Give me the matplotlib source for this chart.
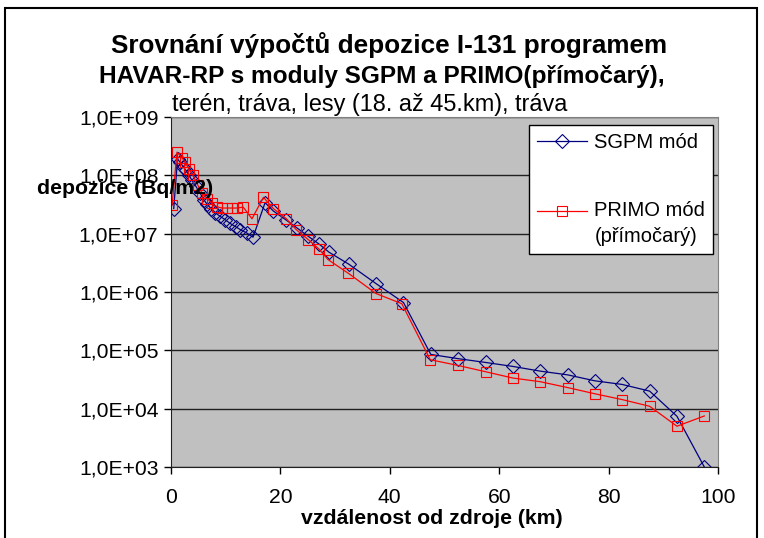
import numpy as np
import matplotlib
matplotlib.use("Agg")
import matplotlib.pyplot as plt
from matplotlib.patches import Rectangle

plt.rcParams['font.family'] = ['Liberation Sans', 'DejaVu Sans']

# SGPM mode (blue)
sgpm_km = [0.5, 1.2, 1.7, 2.2, 2.7, 3.3, 3.8, 4.5, 5.3, 6.0, 6.6, 7.3, 8.1, 8.9,
           9.9, 10.8, 11.8, 12.7, 13.9, 15.0, 17.2, 18.7, 21.1, 23.0, 25.1, 27.1,
           28.9, 32.5, 37.5, 42.5, 47.5, 52.5, 57.5, 62.5, 67.5, 72.5, 77.5, 82.5,
           87.5, 92.5, 97.5]
sgpm_dep = [2.7e7, 1.9e8, 1.66e8, 1.41e8, 1.23e8, 1.0e8, 8.3e7, 6.6e7, 5.0e7,
            3.8e7, 3.2e7, 2.7e7, 2.3e7, 2.0e7, 1.74e7, 1.5e7, 1.32e7, 1.17e7,
            1.02e7, 8.7e6, 3.4e7, 2.45e7, 1.7e7, 1.26e7, 9.0e6, 6.6e6, 4.8e6,
            3.0e6, 1.39e6, 6.6e5, 8.5e4, 7.2e4, 6.2e4, 5.3e4, 4.4e4, 3.8e4,
            3.0e4, 2.6e4, 2.0e4, 7.4e3, 1.0e3]

# PRIMO mode (red)
primo_km = [0.2, 1.1, 2.0, 2.6, 3.3, 4.0, 4.9, 5.7, 6.6, 7.5, 8.4, 9.3, 10.2,
            11.1, 12.0, 13.2, 14.8, 16.9, 18.7, 21.1, 22.9, 25.1, 27.0, 28.7,
            32.4, 37.5, 42.2, 47.4, 52.5, 57.5, 62.5, 67.5, 72.5, 77.5, 82.5,
            87.5, 92.5, 97.5]
primo_dep = [3.1e7, 2.5e8, 2.0e8, 1.66e8, 1.26e8, 1.0e8, 6.8e7, 4.9e7, 4.0e7,
             3.3e7, 2.9e7, 2.75e7, 2.75e7, 2.75e7, 2.75e7, 2.85e7, 1.8e7, 4.2e7,
             2.7e7, 1.8e7, 1.17e7, 7.9e6, 5.5e6, 3.6e6, 2.1e6, 9.4e5, 6.3e5,
             6.9e4, 5.5e4, 4.3e4, 3.35e4, 2.9e4, 2.3e4, 1.8e4, 1.43e4, 1.1e4,
             5.0e3, 7.5e3]

x_ticks = [0, 20, 40, 60, 80, 100]
y_ticks = [1e3, 1e4, 1e5, 1e6, 1e7, 1e8, 1e9]
y_tick_labels = ['1,0E+03', '1,0E+04', '1,0E+05', '1,0E+06', '1,0E+07',
                 '1,0E+08', '1,0E+09']

W, H = 764, 538
fig = plt.figure(figsize=(W / 100, H / 100), dpi=100)
ax = fig.add_axes([171 / W, 1 - 467 / H, (718 - 171) / W, (467 - 117) / H])
ax.set_facecolor('#C0C0C0')

ax.set_yscale('log')
ax.set_xlim(0, 100)
ax.set_ylim(1e3, 1e9)
ax.set_xticks(x_ticks)
ax.set_yticks(y_ticks)
ax.set_yticklabels(y_tick_labels)
ax.minorticks_off()
ax.yaxis.grid(True, color='#202020', lw=1.0)
ax.set_axisbelow(True)
ax.tick_params(axis='both', labelsize=15.2, direction='out', length=5, width=1)
ax.tick_params(axis='x', pad=10)
ax.tick_params(axis='y', pad=4)

for side in ['top', 'right']:
    ax.spines[side].set_color('#808080')
for side in ['left', 'bottom']:
    ax.spines[side].set_color('#202020')

ax.plot(sgpm_km, sgpm_dep, color='#000080', lw=0.9, marker='D', ms=7.2,
        mfc='none', mec='#000080', mew=0.8, label='SGPM mód')
# leading blank line keeps the handle level with "PRIMO mód"
ax.plot(primo_km, primo_dep, color='#FF0000', lw=0.9, marker='s', ms=7.5,
        mfc='none', mec='#FF0000', mew=0.8, label='\nPRIMO mód\n(přímočarý)')

leg = ax.legend(loc='upper left', bbox_to_anchor=(529 / W, 1 - 125 / H),
                bbox_transform=fig.transFigure, fontsize=14.5, frameon=True,
                fancybox=False, edgecolor='black', framealpha=1,
                handlelength=2.5, handletextpad=0.35, labelspacing=1.15,
                borderpad=0.4, borderaxespad=0)
leg.get_frame().set_linewidth(1)
for t in leg.get_texts():
    t.set_linespacing(1.47)

fig.text(389 / W, 1 - 45 / H, 'Srovnání výpočtů depozice I-131 programem',
         ha='center', va='center', fontsize=18.8, fontweight='bold')
fig.text(382 / W, 1 - 77 / H, 'HAVAR-RP s moduly SGPM a PRIMO(přímočarý),',
         ha='center', va='center', fontsize=17.6, fontweight='bold')
fig.text(172 / W, 1 - 104 / H, 'terén, tráva, lesy (18. až 45.km), tráva',
         ha='left', va='center', fontsize=16.9)

fig.text(37 / W, 1 - 189 / H, 'depozice (Bq/m2)', ha='left', va='center',
         fontsize=15.3, fontweight='bold')
fig.text(432 / W, 1 - 519 / H, 'vzdálenost od zdroje (km)', ha='center',
         va='center', fontsize=15.3, fontweight='bold')

fig.add_artist(Rectangle((5 / W, -0.05), (757 - 5) / W, 1.05 - 8 / H,
                         transform=fig.transFigure, fill=False,
                         edgecolor='black', lw=1.5))

fig.savefig('out.png', dpi=100)
